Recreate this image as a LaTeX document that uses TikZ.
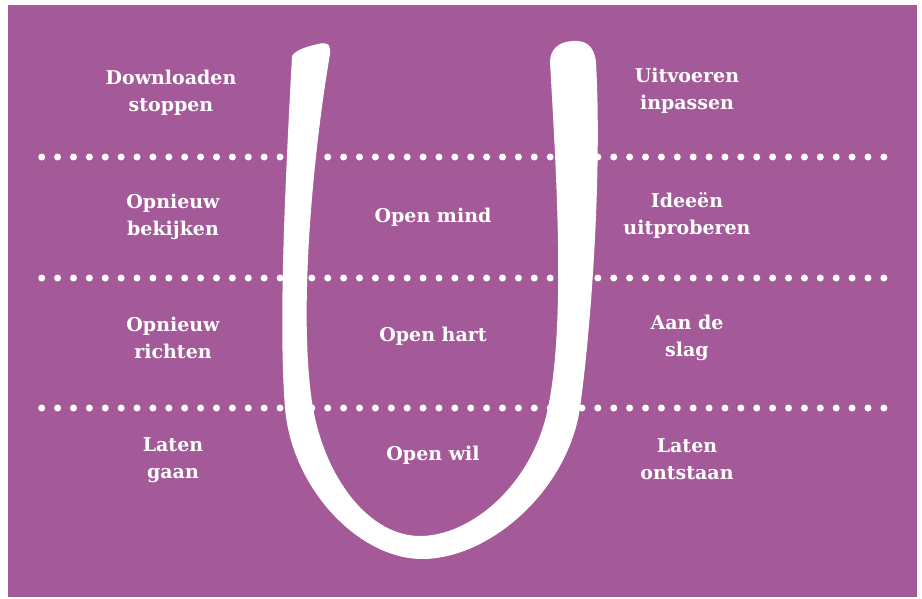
\documentclass[tikz,border=0pt]{standalone}
\usepackage{fontspec}
\setmainfont{DejaVu Serif}
\definecolor{bgpurple}{RGB}{164,89,152}
\begin{document}
\begin{tikzpicture}[x=1pt,y=-1pt,
  lbl/.style={text=white,font=\bfseries\fontsize{19}{27}\selectfont,align=center,inner sep=0pt},
  dotrow/.style={fill=white}]
\useasboundingbox (0,0) rectangle (922,598);
\fill[bgpurple] (8,5) rectangle (917,597);
% dotted rows
\foreach \y in {157,278,408}{
  \foreach \i in {0,...,53}{
    \fill[dotrow] (41.7+\i*15.89,\y) circle (3.5);
  }
}
% U shape
\fill[white] (292,56)
  .. controls (286,170) and (278,320) .. (285,408)
  .. controls (292,490) and (360,559) .. (422,559)
  .. controls (490,559) and (568,490) .. (580,408)
  .. controls (592,320) and (602,170) .. (596,62)
  .. controls (594,45) and (585,40) .. (572,41)
  .. controls (558,42) and (550,50) .. (550,62)
  .. controls (556,170) and (566,320) .. (548,408)
  .. controls (532,486) and (470,536) .. (420,536)
  .. controls (370,536) and (326,480) .. (313,408)
  .. controls (298,320) and (312,160) .. (330,54)
  .. controls (331,43) and (326,42) .. (318,44)
  .. controls (305,47) and (296,50) .. (292,56) -- cycle;
% labels
\node[lbl] (t1) at (171,93) {Downloaden\\stoppen};
\node[lbl] (t2) at (687,91) {Uitvoeren\\inpassen};
\node[lbl] (t3) at (173,217) {Opnieuw\\bekijken};
\node[lbl] (t4) at (433,217) {Open mind};
\node[lbl] (t5) at (687,215) {Ideeën\\uitproberen};
\node[lbl] (t6) at (173,338) {Opnieuw\\richten};
\node[lbl] (t7) at (433,336) {Open hart};
\node[lbl] (t8) at (687,338) {Aan de\\slag};
\node[lbl] (t9) at (173,460) {Laten\\gaan};
\node[lbl] (t10) at (433,455) {Open wil};
\node[lbl] (t11) at (687,459) {Laten\\ontstaan};
\end{tikzpicture}
\end{document}
